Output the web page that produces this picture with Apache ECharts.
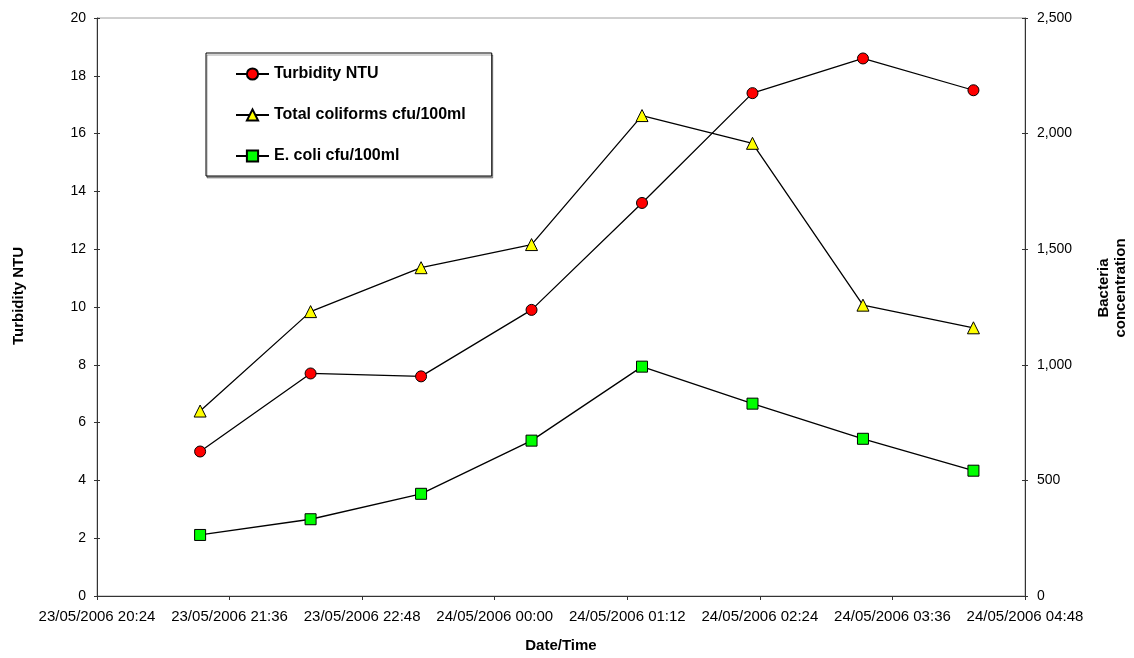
<!DOCTYPE html>
<html>
<head>
<meta charset="utf-8">
<script src="https://cdn.jsdelivr.net/npm/echarts@6/dist/echarts.min.js"></script>
<style>html,body{margin:0;padding:0;background:#fff}#c{width:1134px;height:658px}</style>
</head>
<body>
<div id="c"></div>
<script>
// ---- data ----
const times = ['23/05/2006 21:20','23/05/2006 22:20','23/05/2006 23:20','24/05/2006 00:20',
               '24/05/2006 01:20','24/05/2006 02:20','24/05/2006 03:20','24/05/2006 04:20'];
const turbidity = [5.0, 7.7, 7.6, 9.9, 13.6, 17.4, 18.6, 17.5];
const totalColiforms = [800, 1230, 1420, 1520, 2078, 1958, 1258, 1160];
const eColi = [264, 332, 442, 672, 992, 832, 680, 542];
const xMin = '23/05/2006 20:24';
const xMax = '24/05/2006 04:48';
const xStepMinutes = 72;
const leftTicks = {min: 0, max: 20, interval: 2};
const rightTicks = {min: 0, max: 2500, interval: 500};
const xTitle = 'Date/Time';
const leftTitle = 'Turbidity NTU';
const rightTitle = 'Bacteria\nconcentration';

function parseT(s) {
  const m = s.match(/(\d+)\/(\d+)\/(\d+) (\d+):(\d+)/);
  return Date.UTC(+m[3], +m[2]-1, +m[1], +m[4], +m[5]);
}
function pad(n){return (n<10?'0':'')+n;}
function fmtT(v) {
  const d = new Date(v);
  return pad(d.getUTCDate())+'/'+pad(d.getUTCMonth()+1)+'/'+d.getUTCFullYear()+' '+pad(d.getUTCHours())+':'+pad(d.getUTCMinutes());
}
function fmtNum(v){return String(v).replace(/\B(?=(\d{3})+(?!\d))/g, ',');}

const xs = times.map(parseT);
const FONT = '"Liberation Sans", Arial, sans-serif';
const axisCol = '#333333';

const chart = echarts.init(document.getElementById('c'), null, {renderer: 'canvas'});
const tickLabel = {fontFamily: FONT, fontSize: 14, color: '#000'};
const nameStyle = {fontFamily: FONT, fontSize: 15, fontWeight: 'bold', color: '#000'};

const option = {
  animation: false,
  backgroundColor: '#fff',
  grid: {left: 97, right: 109, top: 18, bottom: 60, show: true, borderColor: '#a0a0a0', borderWidth: 1, containLabel: false},
  legend: {
    orient: 'vertical', left: 206, top: 53,
    padding: [13, 26, 12, 29],
    itemGap: 25, itemWidth: 33, itemHeight: 14,
    borderColor: '#000', borderWidth: 1,
    backgroundColor: '#fff',
    shadowColor: 'rgba(0,0,0,0.35)', shadowOffsetX: 1, shadowOffsetY: 2, shadowBlur: 0,
    textStyle: {fontFamily: FONT, fontSize: 16, fontWeight: 'bold', color: '#000'},
    data: ['Turbidity NTU', 'Total coliforms cfu/100ml', 'E. coli cfu/100ml']
  },
  graphic: [
    {type: 'text', left: 'auto', x: 19, y: 296, rotation: Math.PI/2,
     style: {text: leftTitle, font: 'bold 15px ' + FONT, fill: '#000', align: 'center', verticalAlign: 'middle'}},
    {type: 'text', x: 1112, y: 288, rotation: Math.PI/2,
     style: {text: rightTitle, font: 'bold 15px ' + FONT, fill: '#000', align: 'center', verticalAlign: 'middle', lineHeight: 17}}
  ],
  xAxis: {
    type: 'value', min: parseT(xMin), max: parseT(xMax), interval: xStepMinutes*60000,
    name: xTitle, nameLocation: 'middle', nameGap: 42, nameTextStyle: nameStyle,
    axisLine: {lineStyle: {color: axisCol, width: 1}},
    axisTick: {length: 4, lineStyle: {color: axisCol}},
    axisLabel: {formatter: fmtT, margin: 13, fontFamily: FONT, fontSize: 15, color: '#000'},
    splitLine: {show: false}
  },
  yAxis: [
    {type: 'value', position: 'left', ...leftTicks,
     axisLine: {show: true, lineStyle: {color: axisCol}},
     axisTick: {show: true, length: 3, lineStyle: {color: axisCol}},
     axisLabel: {margin: 11, ...tickLabel}, splitLine: {show: false}},
    {type: 'value', position: 'right', ...rightTicks,
     axisLine: {show: true, lineStyle: {color: axisCol}},
     axisTick: {show: true, length: 3, lineStyle: {color: axisCol}},
     axisLabel: {margin: 12, formatter: fmtNum, ...tickLabel}, splitLine: {show: false}},
    {type: 'value', position: 'left', ...leftTicks,
     axisLine: {show: false}, axisTick: {show: true, inside: true, length: 3, lineStyle: {color: axisCol}},
     axisLabel: {show: false}, splitLine: {show: false}},
    {type: 'value', position: 'right', ...rightTicks,
     axisLine: {show: false}, axisTick: {show: true, inside: true, length: 3, lineStyle: {color: axisCol}},
     axisLabel: {show: false}, splitLine: {show: false}}
  ],
  series: [
    {name: 'Turbidity NTU', type: 'line', yAxisIndex: 0,
     data: xs.map((x,i)=>[x, turbidity[i]]),
     symbol: 'circle', symbolSize: 11,
     lineStyle: {color: '#000', width: 1.3},
     itemStyle: {color: '#ff0000', borderColor: '#000', borderWidth: 1}},
    {name: 'Total coliforms cfu/100ml', type: 'line', yAxisIndex: 1,
     data: xs.map((x,i)=>[x, totalColiforms[i]]),
     symbol: 'triangle', symbolSize: 12,
     lineStyle: {color: '#000', width: 1.3},
     itemStyle: {color: '#ffff00', borderColor: '#000', borderWidth: 1}},
    {name: 'E. coli cfu/100ml', type: 'line', yAxisIndex: 1,
     data: xs.map((x,i)=>[x, eColi[i]]),
     symbol: 'rect', symbolSize: 11,
     lineStyle: {color: '#000', width: 1.3},
     itemStyle: {color: '#00ff00', borderColor: '#000', borderWidth: 1}}
  ]
};
chart.setOption(option);
</script>
</body>
</html>
